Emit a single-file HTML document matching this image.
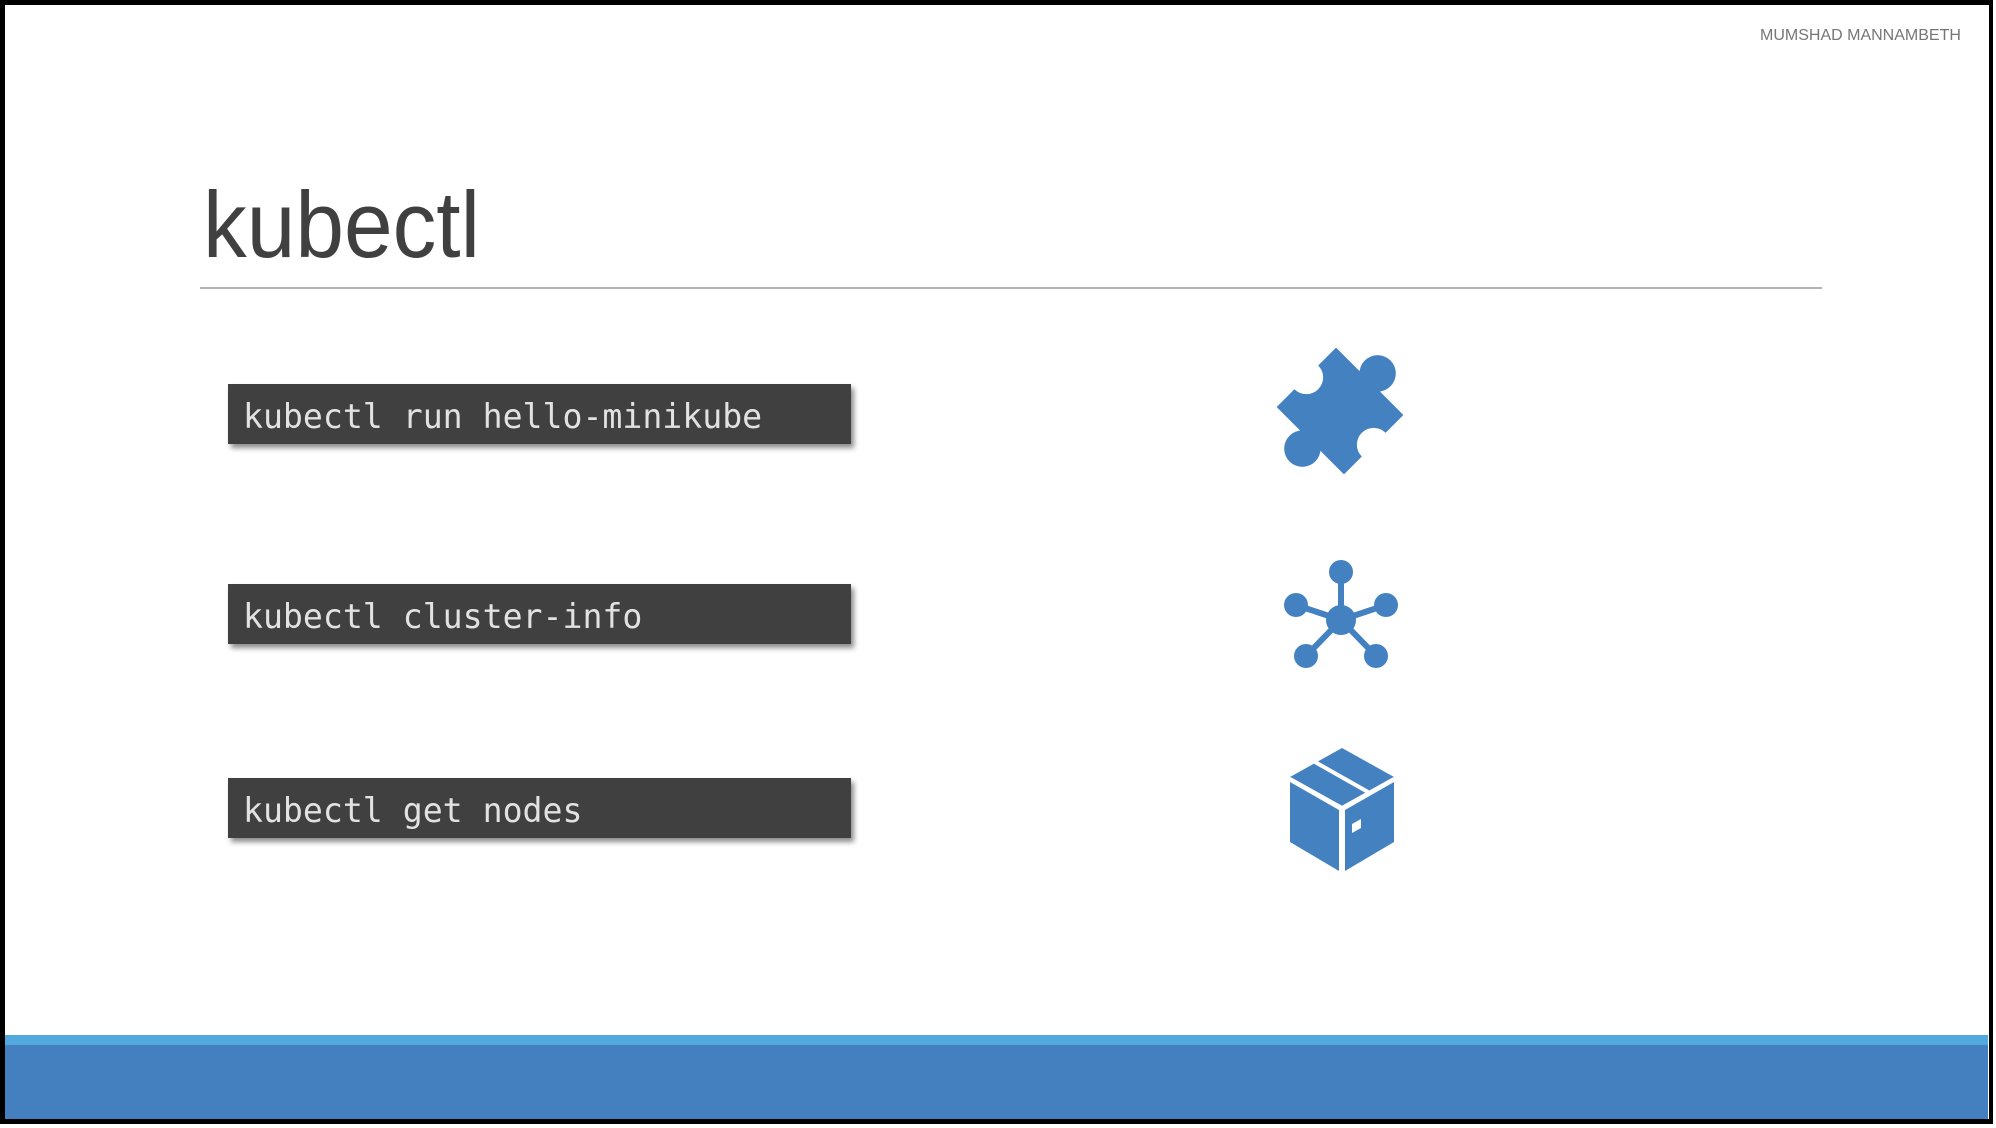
<!DOCTYPE html>
<html><head><style>
body{margin:0;width:1996px;height:1128px;position:relative;background:#fff;overflow:hidden;font-family:"Liberation Sans",sans-serif}
.frame{position:absolute;left:0;top:0;width:1984px;height:1114px;border:5px solid #000;border-right-width:4px}
.title{position:absolute;left:203px;top:178px;font-size:94px;color:#404040;line-height:1;transform:scaleX(0.93);transform-origin:left top}
.rule{position:absolute;left:200px;top:287px;width:1622px;height:2px;background:#b3b3b3}
.hdr{position:absolute;left:1760px;top:27px;font-size:16px;color:#767676;white-space:nowrap}
.cmd{position:absolute;left:228px;width:623px;height:60px;background:#404040;box-shadow:3px 4px 5px rgba(0,0,0,.45);font-family:"DejaVu Sans Mono",monospace;font-size:33.5px;color:#e2e2e2;white-space:pre}
.cmd span{position:absolute;left:15px;top:13px;display:inline-block;transform:scaleX(0.99);transform-origin:left top}
.stripe{position:absolute;left:5px;top:1035px;width:1983px;height:10px;background:#53a8de}
.foot{position:absolute;left:5px;top:1045px;width:1983px;height:74px;background:#4480c0}
svg{position:absolute;left:0;top:0}
</style></head><body>
<div class="hdr">MUMSHAD MANNAMBETH</div>
<div class="title">kubectl</div>
<div class="rule"></div>
<div class="cmd" style="top:384px"><span>kubectl run hello-minikube</span></div>
<div class="cmd" style="top:584px"><span>kubectl cluster-info</span></div>
<div class="cmd" style="top:778px"><span>kubectl get nodes</span></div>
<svg width="1996" height="1128">
<g transform="translate(1340,411) rotate(45) scale(1.4)" fill="#4481c1">
<rect x="-34" y="-30" width="68" height="60"/>
<circle cx="0" cy="-38" r="13"/>
<circle cx="0" cy="38" r="13"/>
<circle cx="-34" cy="0" r="12" fill="#fff"/>
<circle cx="34" cy="0" r="12" fill="#fff"/>
</g>
<g stroke="#4481c1" stroke-width="6" fill="#4481c1">
<line x1="1341" y1="620" x2="1341" y2="572"/>
<line x1="1341" y1="620" x2="1296" y2="605"/>
<line x1="1341" y1="620" x2="1386" y2="605"/>
<line x1="1341" y1="620" x2="1306" y2="656"/>
<line x1="1341" y1="620" x2="1376" y2="656"/>
<g stroke="none">
<circle cx="1341" cy="620" r="15"/>
<circle cx="1341" cy="572" r="12"/>
<circle cx="1296" cy="605" r="12"/>
<circle cx="1386" cy="605" r="12"/>
<circle cx="1306" cy="656" r="12"/>
<circle cx="1376" cy="656" r="12"/>
</g></g>
<g fill="#4481c1">
<polygon points="1342,748 1394,777 1342,806 1290,777"/>
<polygon points="1290,782 1339,810 1339,871 1290,842"/>
<polygon points="1345,810 1394,782 1394,842 1345,871"/>
</g>
<g stroke="#fff" stroke-width="4">
<line x1="1315" y1="762" x2="1368" y2="792"/>
<line x1="1290" y1="779" x2="1342" y2="808"/>
<line x1="1394" y1="779" x2="1342" y2="808"/>
</g>
<polygon points="1352,824 1361,819 1361,828 1352,833" fill="#fff"/>
</svg>
<div class="stripe"></div>
<div class="foot"></div>
<div class="frame"></div>
</body></html>
